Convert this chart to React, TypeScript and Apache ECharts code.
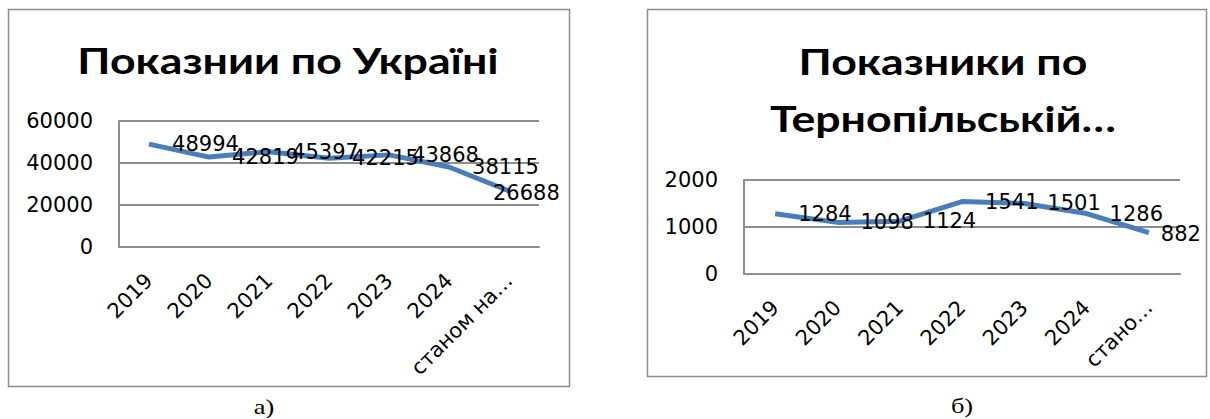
import React, { useEffect, useRef } from "react";
import * as echarts from "echarts";

const categoriesUkraine = ["2019", "2020", "2021", "2022", "2023", "2024", "станом на…"];
const valuesUkraine = [48994, 42819, 45397, 42215, 43868, 38115, 26688];
const categoriesTernopil = ["2019", "2020", "2021", "2022", "2023", "2024", "стано…"];
const valuesTernopil = [1284, 1098, 1124, 1541, 1501, 1286, 882];
const titleUkraine = "Показнии по Україні";
const titleTernopilLine1 = "Показники по";
const titleTernopilLine2 = "Тернопільській…";
const captionA = "а)";
const captionB = "б)";

const FONT = "'DejaVu Sans', Lato, sans-serif";
const TITLE_FONT = "Lato, 'Open Sans', sans-serif";
const SERIF = "'Liberation Serif', 'Times New Roman', serif";
const LINE_COLOR = "#4a7ebb";
const GRID_COLOR = "#8e8e8e";

function buildData(values: number[], lastLabel: any) {
  return values.map((v, i) =>
    i === values.length - 1 ? { value: v, label: lastLabel } : { value: v }
  );
}

function titleText(text: string, x: number, y: number) {
  return {
    type: "text",
    x,
    y,
    scaleX: 1.24,
    silent: true,
    style: {
      text,
      fontFamily: TITLE_FONT,
      fontWeight: "bold",
      fontSize: 36,
      fill: "#000",
      align: "center",
      verticalAlign: "middle",
    },
  };
}

function captionText(text: string, x: number, y: number) {
  return {
    type: "text",
    x,
    y,
    scaleX: 1.2,
    silent: true,
    style: {
      text,
      fontFamily: SERIF,
      fontSize: 22,
      fill: "#000",
      align: "center",
      verticalAlign: "middle",
    },
  };
}

export default function App() {
  const ref = useRef<HTMLDivElement>(null);
  useEffect(() => {
    if (!ref.current) return;
    const chart = echarts.init(ref.current, null, { renderer: "svg" });
    const axisLabelStyle = { fontFamily: FONT, fontSize: 21, color: "#000" };
    const xAxisCommon = (data: string[], gridIndex: number) => ({
      type: "category",
      gridIndex,
      data,
      boundaryGap: true,
      axisTick: { show: false },
      axisLine: { show: true, lineStyle: { color: GRID_COLOR, width: 2 } },
      axisLabel: { ...axisLabelStyle, rotate: 45, margin: 30, interval: 0 },
    });
    const yAxisCommon = (max: number, interval: number, gridIndex: number) => ({
      type: "value",
      gridIndex,
      min: 0,
      max,
      interval,
      axisTick: { show: false },
      axisLine: { show: true, lineStyle: { color: GRID_COLOR, width: 2 } },
      splitLine: { show: true, lineStyle: { color: GRID_COLOR, width: 2 } },
      axisLabel: { ...axisLabelStyle, margin: 26, formatter: (v: number) => String(v) },
    });
    const seriesCommon = {
      type: "line",
      symbol: "circle",
      symbolSize: 0.1,
      itemStyle: { color: LINE_COLOR },
      lineStyle: { color: LINE_COLOR, width: 5 },
      label: {
        show: true,
        position: "right",
        distance: 23,
        fontFamily: FONT,
        fontSize: 21,
        color: "#000",
      },
    };
    chart.setOption({
      animation: false,
      backgroundColor: "#fff",
      grid: [
        { left: 119, top: 121, width: 420, height: 126 },
        { left: 744, top: 180, width: 436, height: 94 },
      ],
      xAxis: [xAxisCommon(categoriesUkraine, 0), xAxisCommon(categoriesTernopil, 1)],
      yAxis: [yAxisCommon(60000, 20000, 0), yAxisCommon(2000, 1000, 1)],
      series: [
        {
          ...seriesCommon,
          xAxisIndex: 0,
          yAxisIndex: 0,
          data: buildData(valuesUkraine, { position: [-16, 2], align: "left", verticalAlign: "middle" }),
        },
        {
          ...seriesCommon,
          xAxisIndex: 1,
          yAxisIndex: 1,
          data: buildData(valuesTernopil, { position: [12, 2], align: "left", verticalAlign: "middle" }),
        },
      ],
      graphic: [
        {
          type: "rect",
          shape: { x: 8.5, y: 9.5, width: 561, height: 377 },
          style: { fill: "none", stroke: "#8c8c8c", lineWidth: 1.5 },
          silent: true,
        },
        {
          type: "rect",
          shape: { x: 647.5, y: 9.5, width: 559, height: 367 },
          style: { fill: "none", stroke: "#8c8c8c", lineWidth: 1.5 },
          silent: true,
        },
        titleText(titleUkraine, 288, 60),
        titleText(titleTernopilLine1, 943, 61),
        titleText(titleTernopilLine2, 943, 118),
        captionText(captionA, 264, 406),
        captionText(captionB, 962, 405),
      ],
    });
    return () => chart.dispose();
  }, []);
  return (
    <div
      ref={ref}
      style={{ position: "absolute", left: 0, top: 0, width: 1210, height: 419, background: "#fff" }}
    />
  );
}
